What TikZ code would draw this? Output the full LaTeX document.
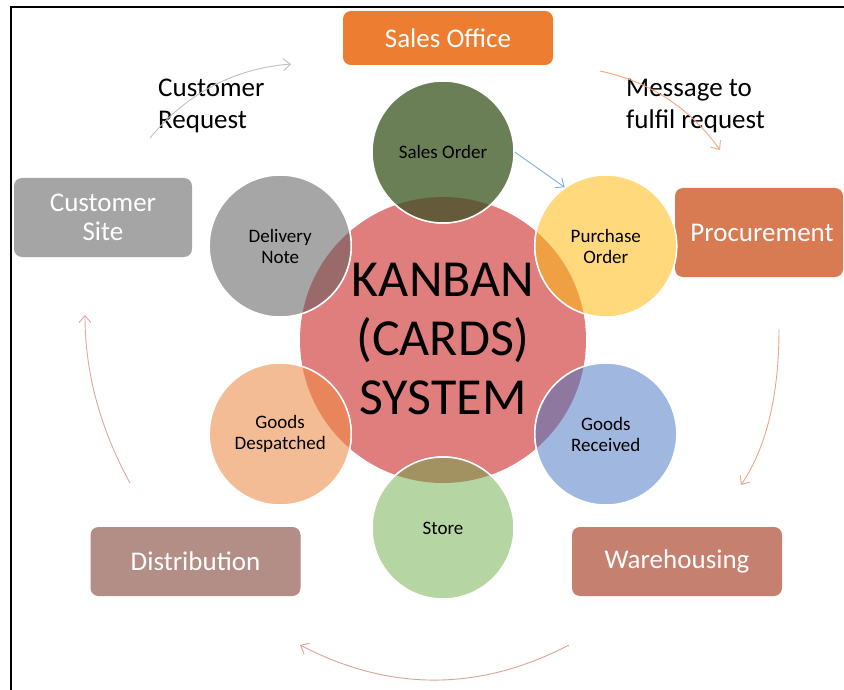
\documentclass[tikz,border=0pt]{standalone}
\usepackage{fontspec}
\setmainfont{Carlito}
\usetikzlibrary{arrows.meta}
\definecolor{csales}{HTML}{ED7D31}
\definecolor{ccust}{HTML}{A5A5A5}
\definecolor{cproc}{HTML}{D87B52}
\definecolor{cware}{HTML}{C5806F}
\definecolor{cdist}{HTML}{B38E87}
\definecolor{ckan}{HTML}{E07D7D}
\definecolor{cso}{HTML}{6A7F56}
\definecolor{csoL}{HTML}{655B3A}
\definecolor{cpo}{HTML}{FFD97B}
\definecolor{cpoL}{HTML}{EFA042}
\definecolor{cgr}{HTML}{A0B7E0}
\definecolor{cgrL}{HTML}{8E78A0}
\definecolor{cst}{HTML}{B5D5A2}
\definecolor{cstL}{HTML}{A29161}
\definecolor{cgd}{HTML}{F4BC95}
\definecolor{cgdL}{HTML}{E8855A}
\definecolor{cdn}{HTML}{A6A6A6}
\definecolor{cdnL}{HTML}{9A6A6A}
\definecolor{agray}{HTML}{BFBFBF}
\definecolor{aorange}{HTML}{F4A57A}
\definecolor{ablue}{HTML}{7FAEE0}
\definecolor{aright}{HTML}{E8A58A}
\definecolor{abottom}{HTML}{D9A397}
\definecolor{aleft}{HTML}{D4AAA3}
\begin{document}
\begin{tikzpicture}[x=1pt,y=-1pt,
  box/.style={rounded corners=8pt, text=white, font=\fontsize{27}{29}\selectfont, align=center, inner sep=0pt},
  smallc/.style={circle, minimum size=142pt, inner sep=0pt, draw=white, line width=1.5pt, align=center, font=\fontsize{19}{21}\selectfont},
  conn/.style={line width=0.9pt, -{Straight Barb[length=7pt,width=12pt]}},
  lbl/.style={align=left, font=\fontsize{27}{32}\selectfont, inner sep=0pt}]
\useasboundingbox (0,0) rectangle (844,690);
% frame
\draw[line width=2pt] (11,692) -- (11,7) -- (846,7);
% boxes
\node[box, fill=csales, minimum width=210pt, minimum height=54pt] (sales) at (448,38) {Sales Office};
\node[box, fill=ccust, minimum width=178pt, minimum height=79pt] (cust) at (103,217.5) {Customer\\Site};
\node[box, fill=cproc, minimum width=168pt, minimum height=89pt] (proc) at (759,232.5) {\hspace*{6pt}Procurement};
\node[box, fill=cware, minimum width=210pt, minimum height=69pt] (ware) at (677,561.5) {Warehousing};
\node[box, fill=cdist, minimum width=210pt, minimum height=69pt] (dist) at (195.5,561.5) {Distribution};
% big circle
\node[circle, minimum size=286pt, inner sep=0pt, fill=ckan] (kb) at (443,340) {};
% small circles
\node[smallc, fill=cso] (so) at (443,152) {Sales Order};
\node[smallc, fill=cpo] (po) at (605.8,246) {Purchase\\Order};
\node[smallc, fill=cgr] (gr) at (605.8,434) {Goods\\Received};
\node[smallc, fill=cst] (st) at (443,528) {Store};
\node[smallc, fill=cgd] (gd) at (280.2,434) {Goods\\Despatched};
\node[smallc, fill=cdn] (dn) at (280.2,246) {Delivery\\Note};
% overlaps
\begin{scope}
  \clip (kb.center) circle (143pt);
  \filldraw[fill=csoL, draw=white, line width=1.5pt] (so.center) circle (71pt);
  \filldraw[fill=cpoL, draw=white, line width=1.5pt] (po.center) circle (71pt);
  \filldraw[fill=cgrL, draw=white, line width=1.5pt] (gr.center) circle (71pt);
  \filldraw[fill=cstL, draw=white, line width=1.5pt] (st.center) circle (71pt);
  \filldraw[fill=cgdL, draw=white, line width=1.5pt] (gd.center) circle (71pt);
  \filldraw[fill=cdnL, draw=white, line width=1.5pt] (dn.center) circle (71pt);
\end{scope}
\node[font=\fontsize{52}{59}\selectfont, align=center, inner sep=0pt] (kbt) at (443,339) {KANBAN\\(CARDS)\\SYSTEM};
% text labels
\node[lbl, anchor=west] (creq) at (158,106) {Customer\\Request};
\node[lbl, anchor=west] (msg) at (626,106) {Message to\\fulfil request};
% connectors
\coordinate (g1) at (150,138);
\coordinate (g2) at (291,64);
\coordinate (o1) at (600,71);
\coordinate (o2) at (720,150);
\coordinate (r1) at (779,329);
\coordinate (r2) at (741,485);
\coordinate (b1) at (569,645);
\coordinate (b2) at (300,645);
\coordinate (l1) at (130,483);
\coordinate (l2) at (85,315);
\draw[conn, agray] (g1) .. controls (186.7,93.3) and (233.7,68.7) .. (g2);
\draw[conn, aorange] (o1) .. controls (650,81.7) and (690,108) .. (o2);
\draw[conn, ablue] (so.east) -- (po.125);
\draw[conn, aright] (r1) .. controls (779,395.7) and (766.3,447.7) .. (r2);
\draw[conn, abottom] (b1) .. controls (479.3,691.7) and (389.7,691.7) .. (b2);
\draw[conn, aleft] (l1) .. controls (100,428.3) and (85,372.3) .. (l2);
\end{tikzpicture}
\end{document}
